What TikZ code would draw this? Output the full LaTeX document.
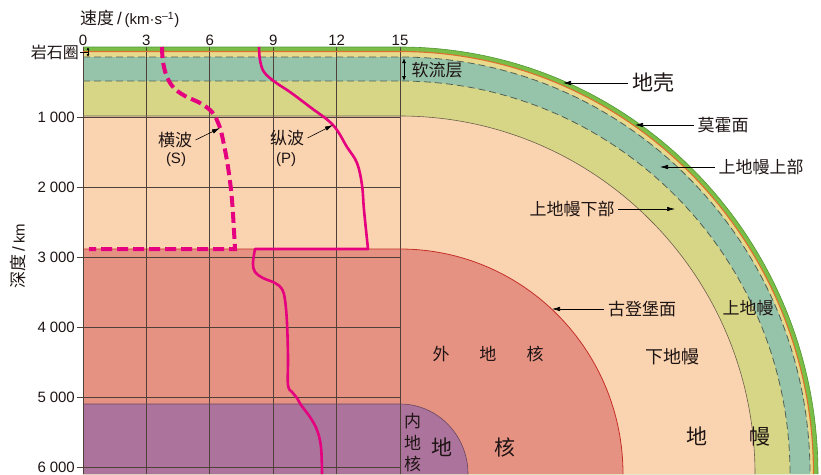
\documentclass[tikz,border=0pt]{standalone}
\usepackage{fontspec}
\setmainfont{Liberation Sans}
\newfontfamily\cjk{Noto Sans CJK SC}
\usepackage{tikz}
\usetikzlibrary{arrows.meta}
\definecolor{crustgreen}{RGB}{122,190,72}
\definecolor{crustedge}{RGB}{80,150,50}
\definecolor{mohoorange}{RGB}{222,112,45}
\definecolor{mohoband}{RGB}{232,218,140}
\definecolor{asthteal}{RGB}{150,196,170}
\definecolor{uppergreen}{RGB}{214,214,134}
\definecolor{lowerpeach}{RGB}{250,212,176}
\definecolor{outersalmon}{RGB}{230,146,130}
\definecolor{innerpurple}{RGB}{172,116,156}
\definecolor{wavepink}{RGB}{228,0,127}
\definecolor{gridbrown}{RGB}{80,64,58}
\definecolor{dashgrey}{RGB}{80,96,86}
\tikzset{every node/.style={text={rgb,255:red,30;green,20;blue,20}}}
\tikzset{
  gridline/.style={gridbrown, line width=0.7pt},
  crustline/.style={crustedge, line width=0.6pt},
  moholine/.style={mohoorange, line width=1.1pt},
  dashline/.style={dashgrey, line width=0.8pt, dash pattern=on 7pt off 4pt},
  mantleline/.style={gridbrown!80!uppergreen, line width=0.6pt},
  gutenline/.style={red!60!outersalmon!80!black, line width=0.8pt},
  innerline/.style={innerpurple!60!black, line width=0.6pt},
  num/.style={font=\fontsize{15}{18}\selectfont, inner sep=1pt},
  cn/.style={font=\cjk\fontsize{17}{20}\selectfont},
  cnbig/.style={font=\cjk\fontsize{21}{24}\selectfont},
  pointer/.style={-{Latex[length=8pt,width=4.5pt]}, line width=0.6pt},
  twoway/.style={{Latex[length=5pt,width=4pt]}-{Latex[length=5pt,width=4pt]}, line width=0.9pt},
  swave/.style={wavepink, line width=4pt, dash pattern=on 11pt off 5pt},
  pwave/.style={wavepink, line width=2.6pt, line join=round}
}
\begin{document}
\begin{tikzpicture}[x=1pt, y=-1pt]
\useasboundingbox (0,0) rectangle (821,474);
% layers, outside in
\foreach \yr/\xr/\col in {427/418/crustgreen, 422.5/413.5/mohoband, 417/410/asthteal, 393/390/uppergreen, 358/355/lowerpeach, 225/223/outersalmon, 70/68/innerpurple}
  \fill[\col] (83,{474-\yr}) -- (400,{474-\yr}) arc[start angle=90, end angle=0, x radius=\xr pt, y radius=\yr pt] -- (83,474) -- cycle;
\foreach \d in {1,...,6} {
\pgfmathsetmacro{\yd}{47+70*\d}
\draw[gridline] (77,\yd) -- (400,\yd);
\node[num, anchor=east] (depth\d) at (76,\yd) {\d\hspace{0.25em}000};
}
\foreach \v in {0,3,...,15} {
\pgfmathsetmacro{\xv}{83+317*\v/15}
\draw[gridline] (\xv,47) -- (\xv,474);
\node[num] (speed\v) at (\xv,40) {\v};
}
\foreach \yr/\xr/\sty in {427/418/crustline, 422.5/413.5/moholine, 417/410/dashline, 393/390/dashline, 358/355/mantleline, 225/223/gutenline, 70/68/innerline}
  \draw[\sty] (83,{474-\yr}) -- (400,{474-\yr}) arc[start angle=90, end angle=0, x radius=\xr pt, y radius=\yr pt];
% wave speeds
\draw[swave] plot[smooth, tension=0.6] coordinates {(162,47) (163,62) (167,77) (174,88) (185,96) (200,103) (212,112) (219,125) (223,140) (228,167) (232,200) (235,249)} -- (89,249);
\draw[pwave] plot[smooth, tension=0.6] coordinates {(259,47) (260,60) (264,72) (275,82) (290,92) (310,107) (333,125) (347,147) (357,163) (362,185) (364,210) (368,249)}
  -- plot[smooth, tension=0.6] coordinates {(255,249) (253,263) (255,272) (263,278) (275,283) (282,289) (285,300) (287,323) (288,357) (288,385) (292,392) (297,398) (301,405) (310,417) (317,430) (321,447) (322,474)};
\node[anchor=west, inner sep=0pt] (speedtitle) at (80,19) {{\cjk\fontsize{17}{20}\selectfont 速度}\fontsize{17}{20}\selectfont\,/\,\fontsize{15}{18}\selectfont(km·s\textsuperscript{–1})};
\node[rotate=90, inner sep=0pt] (depthtitle) at (18,256) {{\cjk\fontsize{17}{20}\selectfont 深度}\fontsize{17}{20}\selectfont\,/\,\fontsize{15}{18}\selectfont km};
\node[cn, font=\cjk\fontsize{16}{18}\selectfont, anchor=east, inner sep=1pt] (lithos) at (80,52) {岩石圈};
\coordinate (lithtop) at (88,47);
\coordinate (lithbot) at (88,57);
\draw[line width=0.8pt] (lithos.east) -- (lithtop |- lithos.east);
\draw[{Latex[length=3pt,width=3pt]}-{Latex[length=3pt,width=3pt]}, line width=0.8pt] (lithtop) -- (lithbot);
\coordinate (asthtop) at (404,58);
\coordinate (asthbot) at (404,81);
\draw[twoway] (asthtop) -- (asthbot);
\node[cn, anchor=west] (asth) at (408,70) {软流层};
\node[cnbig] (crust) at (653,83) {地壳};
\coordinate (crusttip) at (563,83);
\draw[pointer] (crust.west) -- (crusttip);
\node[cn] (moho) at (723,125) {莫霍面};
\coordinate (mohotip) at (635,125);
\draw[pointer] (moho.west) -- (mohotip);
\node[cn] (upperup) at (761,167) {上地幔上部};
\coordinate (upperuptip) at (660,167);
\draw[pointer] (upperup.west) -- (upperuptip);
\node[cn] (upperlow) at (572,209) {上地幔下部};
\coordinate (upperlowtip) at (675,209);
\draw[pointer] (upperlow.east) -- (upperlowtip);
\node[cn] (guten) at (642,309) {古登堡面};
\coordinate (gutentip) at (552,309);
\draw[pointer] (guten.west) -- (gutentip);
\node[cn] (stag) at (175,140) {横波};
\node[num] (sname) at (176,160) {(S)};
\coordinate (stip) at (220,128);
\draw[pointer] (stag.east) -- (stip);
\node[cn] (ptag) at (287,138) {纵波};
\node[num] (pname) at (286,160) {(P)};
\coordinate (ptip) at (333,125);
\draw[pointer] (ptag.east) -- (ptip);
\node[cn] (uppermantle) at (748,308) {上地幔};
\node[cn, font=\cjk\fontsize{18}{20}\selectfont] (lowermantle) at (672,357) {下地幔};
\node[cn] (outercore) at (488,354) {外\hspace{30pt}地\hspace{30pt}核};
\node[cnbig] (core) at (473.5,447) {地\hspace{42pt}核};
\node[cnbig] (mantle) at (728.5,437) {地\hspace{42pt}幔};
\node[cn, font=\cjk\fontsize{17}{21.5}\selectfont, align=center] (innercore) at (412.5,443) {内\\地\\核};
\end{tikzpicture}
\end{document}
